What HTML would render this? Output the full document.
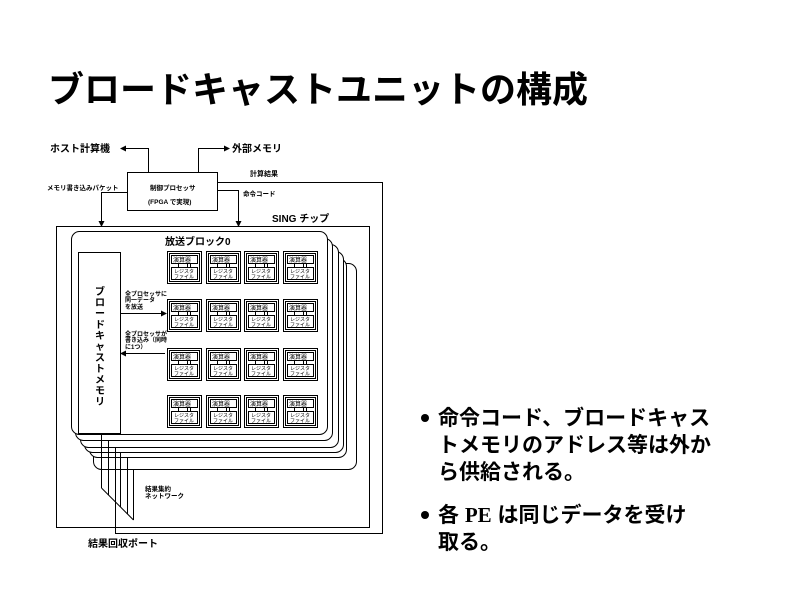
<!DOCTYPE html>
<html><head><meta charset="utf-8"><style>
html,body{margin:0;padding:0;background:#fff;width:800px;height:600px;overflow:hidden}
svg{display:block}
text{font-family:"Liberation Sans","Noto Sans CJK JP",sans-serif;font-weight:bold;fill:#000}
</style></head><body>
<svg width="800" height="600" viewBox="0 0 800 600" xmlns="http://www.w3.org/2000/svg">
<defs>
<marker id="a" markerWidth="6" markerHeight="6" refX="5" refY="3" orient="auto" markerUnits="userSpaceOnUse"><path d="M0,0 L6,3 L0,6z" fill="#000"/></marker>
<g id="pe">
<rect x="0.5" y="0.5" width="34" height="32" fill="#fff" stroke="#000" stroke-width="1"/>
<rect x="2.5" y="2.5" width="30" height="28" fill="none" stroke="#000" stroke-width="1"/>
<rect x="4.5" y="4.5" width="26" height="8" fill="none" stroke="#000" stroke-width="1"/>
<rect x="4.5" y="16.5" width="26" height="12" fill="none" stroke="#000" stroke-width="1"/>
<text x="6" y="11" font-size="6" style="font-weight:normal">演算器</text>
<text x="7" y="22" font-size="5" style="font-weight:normal">レジスタ</text>
<text x="7" y="27.5" font-size="5" style="font-weight:normal">ファイル</text>
<line x1="11.5" y1="13" x2="11.5" y2="16" stroke="#000"/>
<line x1="20.5" y1="13" x2="20.5" y2="16" stroke="#000"/>
<line x1="23.5" y1="13" x2="23.5" y2="16" stroke="#000"/>
</g>
</defs>
<text x="48" y="102" font-size="36">ブロードキャストユニットの構成</text>

<g fill="none" stroke="#000" stroke-width="1">
<polyline points="218,182.5 382.5,182.5 382.5,533.5 115.5,533.5 115.5,495"/>
<rect x="56.5" y="226.5" width="313" height="301"/>
<rect x="127.5" y="172.5" width="90" height="38" fill="#fff"/>
<polyline points="148.5,172 148.5,148.5 121,148.5" marker-end="url(#a)"/>
<polyline points="198.5,172 198.5,148.5 229,148.5" marker-end="url(#a)"/>
<polyline points="127,192.5 101.5,192.5 101.5,226" marker-end="url(#a)"/>
<polyline points="217,190.5 238.5,190.5 238.5,226" marker-end="url(#a)"/>
<rect x="93.5" y="263.5" width="263" height="206" rx="8" fill="#fff"/>
<rect x="89.5" y="258.5" width="257" height="199" rx="8" fill="#fff"/>
<rect x="84.5" y="251.5" width="259" height="201" rx="8" fill="#fff"/>
<rect x="80.5" y="244.5" width="258" height="203" rx="8" fill="#fff"/>
<rect x="75.5" y="238.5" width="257" height="202" rx="8" fill="#fff"/>
<rect x="71.5" y="231.5" width="256" height="203" rx="8" fill="#fff"/>
<rect x="78.5" y="252.5" width="42" height="181"/>
<line x1="121" y1="313.5" x2="166" y2="313.5" marker-end="url(#a)"/>
<line x1="165" y1="353.5" x2="121" y2="353.5" marker-end="url(#a)"/>
<line x1="101.5" y1="434" x2="101.5" y2="488"/>
<line x1="108.5" y1="441" x2="108.5" y2="495"/>
<line x1="115.5" y1="448" x2="115.5" y2="502"/>
<line x1="120.5" y1="453" x2="120.5" y2="507"/>
<line x1="127.5" y1="458" x2="127.5" y2="514"/>
<line x1="133.5" y1="470" x2="133.5" y2="520"/>
<line x1="101.5" y1="488" x2="133.5" y2="520"/>
</g>
<g>
<use href="#pe" x="167" y="251"/><use href="#pe" x="206" y="251"/><use href="#pe" x="244" y="251"/><use href="#pe" x="283" y="251"/>
<use href="#pe" x="167" y="299"/><use href="#pe" x="206" y="299"/><use href="#pe" x="244" y="299"/><use href="#pe" x="283" y="299"/>
<use href="#pe" x="167" y="348"/><use href="#pe" x="206" y="348"/><use href="#pe" x="244" y="348"/><use href="#pe" x="283" y="348"/>
<use href="#pe" x="167" y="395"/><use href="#pe" x="206" y="395"/><use href="#pe" x="244" y="395"/><use href="#pe" x="283" y="395"/>
</g>
<text x="50" y="152" font-size="10">ホスト計算機</text>
<text x="232" y="152" font-size="10">外部メモリ</text>
<text x="250" y="176" font-size="7">計算結果</text>
<text x="47" y="190" font-size="6.5">メモリ書き込みパケット</text>
<text x="243" y="196" font-size="6.5">命令コード</text>
<text x="150" y="190" font-size="6.5">制御プロセッサ</text>
<text x="148" y="204" font-size="6.5">(FPGA で実現)</text>
<text x="272" y="222" font-size="10">SING チップ</text>
<text x="165" y="245" font-size="10">放送ブロック0</text>
<g font-size="10">
<text x="95" y="295">ブ</text><text x="95" y="306">ロ</text><text x="95" y="317">ー</text><text x="95" y="328">ド</text><text x="95" y="339">キ</text><text x="95" y="350">ャ</text><text x="95" y="361">ス</text><text x="95" y="372">ト</text><text x="95" y="383">メ</text><text x="95" y="394">モ</text><text x="95" y="405">リ</text>
</g>
<text x="125" y="296" font-size="6">全プロセッサに</text>
<text x="125" y="302" font-size="6">同一データ</text>
<text x="125" y="309" font-size="6">を放送</text>
<text x="125" y="336" font-size="6">全プロセッサが</text>
<text x="125" y="342" font-size="6">書き込み（同時</text>
<text x="125" y="349" font-size="6">に1つ）</text>
<text x="145" y="491" font-size="6.5">結果集約</text>
<text x="145" y="498" font-size="6.5">ネットワーク</text>
<text x="88" y="547" font-size="10">結果回収ポート</text>

<circle cx="425" cy="418" r="4" fill="#000"/>
<text x="438" y="425" font-size="21">命令コード、ブロードキャス</text>
<text x="438" y="452" font-size="21">トメモリのアドレス等は外か</text>
<text x="438" y="479" font-size="21">ら供給される。</text>
<circle cx="425" cy="515" r="4" fill="#000"/>
<text x="438" y="522" font-size="21">各 <tspan font-family="Liberation Serif">PE</tspan> は同じデータを受け</text>
<text x="438" y="549" font-size="21">取る。</text>
</svg>
</body></html>
